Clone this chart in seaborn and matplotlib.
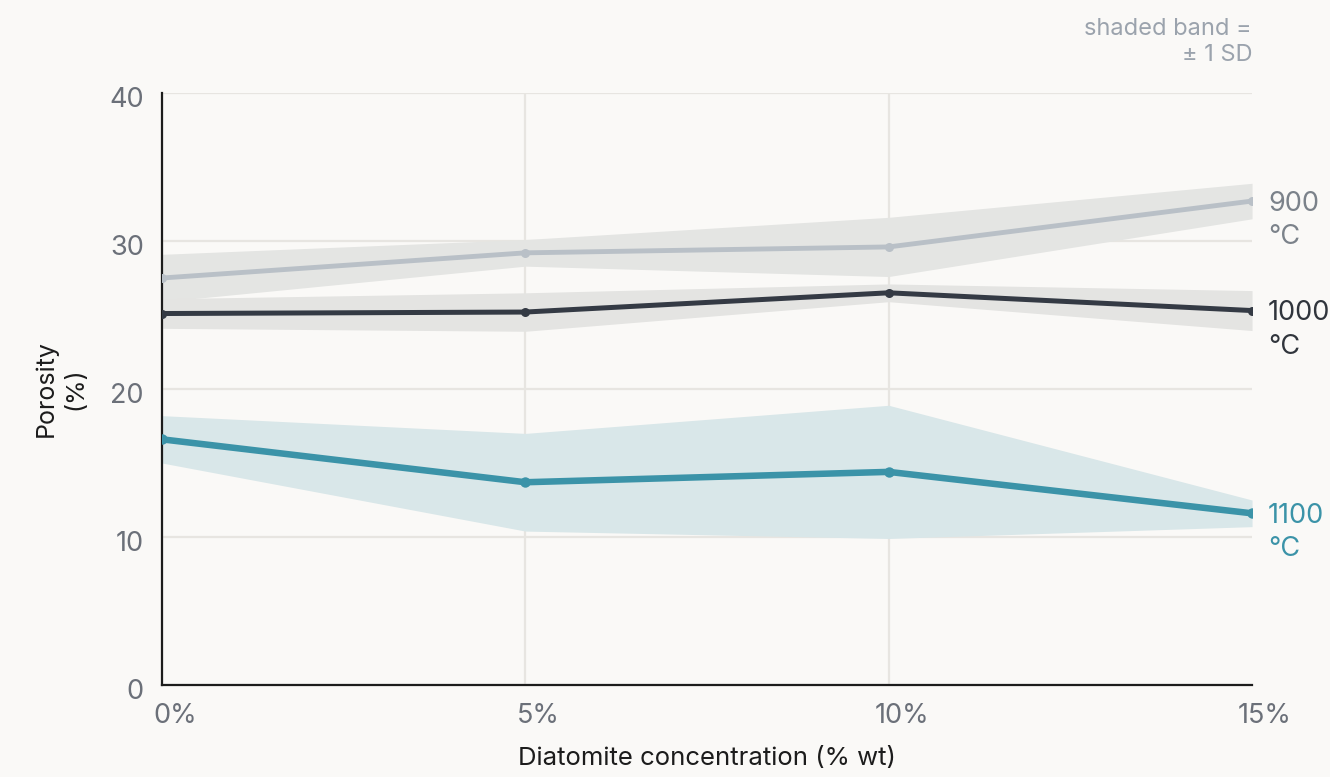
import numpy as np
import pandas as pd
import seaborn as sns
import matplotlib.pyplot as plt
from matplotlib.transforms import ScaledTranslation

# values
concentration = [0, 5, 10, 15]
tick_labels = ["0%", "5%", "10%", "15%"]
temperatures = ["900 °C", "1000 °C", "1100 °C"]

por_900 = [27.5, 29.2, 29.6, 32.7]
sd_900 = [1.6, 0.9, 2.0, 1.2]
por_1000 = [25.1, 25.2, 26.5, 25.3]
sd_1000 = [1.0, 1.3, 0.6, 1.35]
por_1100 = [16.6, 13.7, 14.4, 11.6]
sd_1100 = [1.6, 3.3, 4.5, 0.9]

line_colors = ["#b9c0c7", "#343a44", "#3b93a8"]
band_colors = ["#e4e5e3", "#e4e4e2", "#d9e7e9"]
label_colors = ["#7b828a", "#30353c", "#3b93a8"]
line_widths = [3.5, 3.6, 4.7]
marker_sizes = [6.5, 6.5, 7.5]

sns.set_theme(style="white")
plt.rcParams["font.family"] = ["Inter", "DejaVu Sans"]
bg = "#faf9f7"

df = pd.DataFrame({
    "conc": concentration * 3,
    "porosity": por_900 + por_1000 + por_1100,
    "sd": sd_900 + sd_1000 + sd_1100,
    "temp": [t for t in temperatures for _ in concentration],
})

fig = plt.figure(figsize=(13.3, 7.77), dpi=100, facecolor=bg)
ax = fig.add_axes([0.1218, 0.1184, 0.8196, 0.7619])
ax.set_facecolor(bg)

# +/- 1 SD bands
for i, t in enumerate(temperatures):
    sub = df[df["temp"] == t]
    ax.fill_between(sub["conc"], sub["porosity"] - sub["sd"], sub["porosity"] + sub["sd"],
                    color=band_colors[i], linewidth=0, zorder=1)

for i, t in enumerate(temperatures):
    sub = df[df["temp"] == t]
    sns.lineplot(data=sub, x="conc", y="porosity", ax=ax, color=line_colors[i],
                 linewidth=line_widths[i], marker="o", markersize=marker_sizes[i],
                 markeredgewidth=0, zorder=3 + i, legend=False)
    # direct labels at line ends
    last = sub.iloc[-1]
    value, unit = t.split(" ")
    ax.annotate(value, xy=(last["conc"], last["porosity"]), xytext=(11.5, -2),
                textcoords="offset points", ha="left", va="center",
                fontsize=19.5, color=label_colors[i], annotation_clip=False)
    ax.annotate(unit, xy=(last["conc"], last["porosity"]), xytext=(11.5, -26),
                textcoords="offset points", ha="left", va="center",
                fontsize=19.5, color=label_colors[i], annotation_clip=False)

ax.set_xlim(0, 15)
ax.set_ylim(0, 40)
ax.set_xticks(concentration)
ax.set_xticklabels(tick_labels)
ax.set_yticks([0, 10, 20, 30, 40])

ax.grid(True, color="#e7e5e1", linewidth=1.6, zorder=0)
ax.xaxis.get_gridlines()[-1].set_visible(False)
ax.set_axisbelow(True)

for s in ["top", "right"]:
    ax.spines[s].set_visible(False)
for s in ["left", "bottom"]:
    ax.spines[s].set_color("#1c1c1c")
    ax.spines[s].set_linewidth(1.6)

ax.tick_params(axis="both", length=0, labelsize=19.5, labelcolor="#6b7079")
ax.tick_params(axis="x", pad=13)
ax.tick_params(axis="y", pad=13)
for lab in ax.get_xticklabels():
    lab.set_transform(lab.get_transform() + ScaledTranslation(0.13, 0, fig.dpi_scale_trans))
for lab in ax.get_yticklabels():
    lab.set_transform(lab.get_transform() + ScaledTranslation(0, -0.04, fig.dpi_scale_trans))

ax.set_xlabel("Diatomite concentration (% wt)", fontsize=18.5, color="#1c1c1c", labelpad=13)
ax.set_ylabel("Porosity\n(%)", fontsize=18, color="#1c1c1c", labelpad=16, linespacing=1.35)

fig.text(0.9414, 0.977, "shaded band =\n± 1 SD", ha="right", va="top",
         fontsize=17, color="#9ba3ad", linespacing=1.25)

fig.savefig("out.png", dpi=100, facecolor=bg)
